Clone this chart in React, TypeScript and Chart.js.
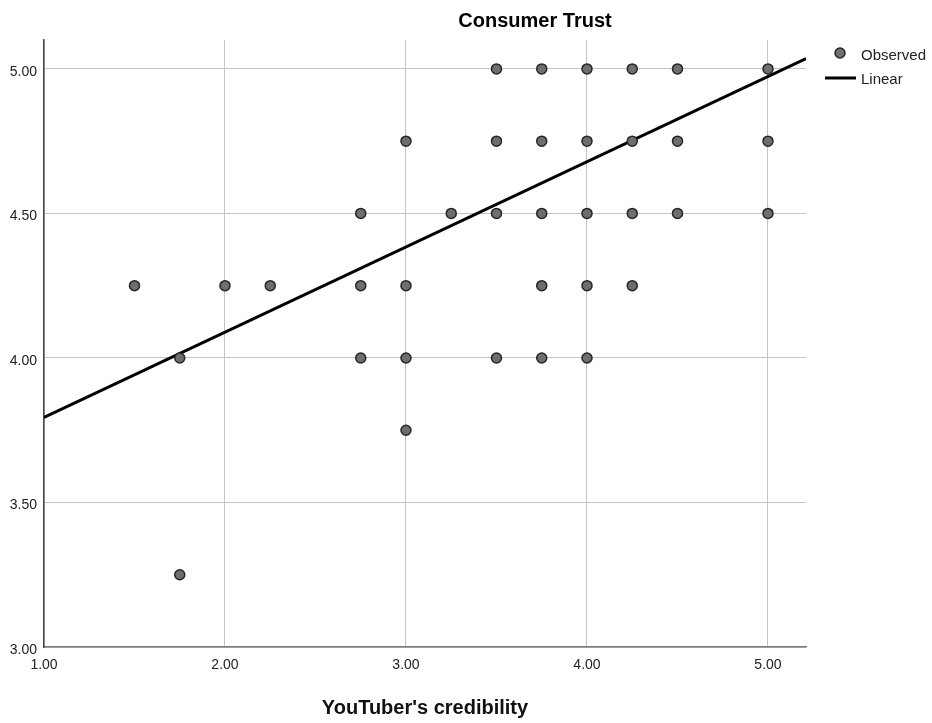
import React, { useEffect, useRef } from "react";
import { Chart, registerables } from "chart.js";

Chart.register(...registerables);

// Observed cases: YouTuber's credibility (x) vs Consumer Trust (y)
const obsX: number[] = [
  3.5, 3.75, 4.0, 4.25, 4.5, 5.0,
  3.0, 3.5, 3.75, 4.0, 4.25, 4.5, 5.0,
  2.75, 3.25, 3.5, 3.75, 4.0, 4.25, 4.5, 5.0,
  1.5, 2.0, 2.25, 2.75, 3.0, 3.75, 4.0, 4.25,
  1.75, 2.75, 3.0, 3.5, 3.75, 4.0,
  3.0,
  1.75,
];
const obsY: number[] = [
  5.0, 5.0, 5.0, 5.0, 5.0, 5.0,
  4.75, 4.75, 4.75, 4.75, 4.75, 4.75, 4.75,
  4.5, 4.5, 4.5, 4.5, 4.5, 4.5, 4.5, 4.5,
  4.25, 4.25, 4.25, 4.25, 4.25, 4.25, 4.25, 4.25,
  4.0, 4.0, 4.0, 4.0, 4.0, 4.0,
  3.75,
  3.25,
];

// Linear fit line, evaluated at the ends of the x range
const fitX: number[] = [1.0, 5.21];
const fitY: number[] = [3.794, 5.036];

const xTicks: number[] = [1, 2, 3, 4, 5];
const yTicks: number[] = [3, 3.5, 4, 4.5, 5];

const chartTitle = "Consumer Trust";
const xTitle = "YouTuber's credibility";
const legendLabels = ["Observed", "Linear"];

const FONT = "'Liberation Sans', Arial, Helvetica, sans-serif";
const POINT_FILL = "#6e6e6e";
const POINT_EDGE = "#262626";

const overlayPlugin = {
  id: "titleAndLegend",
  afterDraw(chart: any) {
    const ctx = chart.ctx as CanvasRenderingContext2D;
    ctx.save();
    // chart title
    ctx.fillStyle = "#000";
    ctx.font = `bold 20px ${FONT}`;
    ctx.textAlign = "center";
    ctx.textBaseline = "middle";
    ctx.fillText(chartTitle, 535, 21);

    // legend
    ctx.beginPath();
    ctx.arc(840, 53, 5, 0, Math.PI * 2);
    ctx.fillStyle = POINT_FILL;
    ctx.fill();
    ctx.lineWidth = 1.5;
    ctx.strokeStyle = POINT_EDGE;
    ctx.stroke();

    ctx.beginPath();
    ctx.moveTo(825, 78);
    ctx.lineTo(856, 78);
    ctx.lineWidth = 3;
    ctx.strokeStyle = "#000";
    ctx.stroke();

    ctx.fillStyle = "#222";
    ctx.font = `15px ${FONT}`;
    ctx.textAlign = "left";
    ctx.textBaseline = "middle";
    ctx.fillText(legendLabels[0], 861, 56);
    ctx.fillText(legendLabels[1], 861, 80);
    ctx.restore();
  },
};

export default function App() {
  const canvasRef = useRef<HTMLCanvasElement | null>(null);

  useEffect(() => {
    if (!canvasRef.current) return;
    const observed = obsX.map((x, i) => ({ x, y: obsY[i] }));
    const fit = fitX.map((x, i) => ({ x, y: fitY[i] }));

    const chart = new Chart(canvasRef.current, {
      type: "scatter",
      data: {
        datasets: [
          {
            label: legendLabels[0],
            data: observed,
            pointRadius: 5,
            pointBorderWidth: 1.5,
            backgroundColor: POINT_FILL,
            borderColor: POINT_EDGE,
            order: 1,
          },
          {
            label: legendLabels[1],
            type: "line",
            data: fit,
            borderColor: "#000",
            borderWidth: 3,
            pointRadius: 0,
            fill: false,
            order: 2,
          } as any,
        ],
      },
      options: {
        animation: false,
        responsive: true,
        maintainAspectRatio: false,
        layout: { padding: { left: 0, right: 126, top: 40, bottom: 0 } },
        plugins: {
          legend: { display: false },
          tooltip: { enabled: false },
          title: { display: false },
        },
        scales: {
          x: {
            type: "linear",
            min: 1,
            max: 5.21,
            afterFit(scale: any) {
              scale.height = 76;
            },
            afterBuildTicks(scale: any) {
              scale.ticks = xTicks.map((v) => ({ value: v }));
            },
            ticks: {
              padding: 10,
              color: "#222",
              font: { family: FONT, size: 14 },
              callback: (v: any) => Number(v).toFixed(2),
            },
            grid: { color: "#c4c4c4", lineWidth: 1, drawTicks: false },
            border: { display: true, color: "#7a7a7a", width: 1.5 },
            title: {
              display: true,
              text: xTitle,
              color: "#111",
              font: { family: FONT, size: 20, weight: "bold" },
              padding: { top: 0, bottom: 3 },
            },
          },
          y: {
            type: "linear",
            min: 3,
            max: 5.1,
            afterFit(scale: any) {
              scale.width = 44;
            },
            afterBuildTicks(scale: any) {
              scale.ticks = yTicks.map((v) => ({ value: v }));
            },
            ticks: {
              padding: 7,
              labelOffset: 3,
              color: "#222",
              font: { family: FONT, size: 14 },
              callback: (v: any) => Number(v).toFixed(2),
            },
            grid: { color: "#c4c4c4", lineWidth: 1, drawTicks: false },
            border: { display: true, color: "#444", width: 1.5 },
          },
        },
      },
      plugins: [overlayPlugin],
    });
    return () => chart.destroy();
  }, []);

  return (
    <div
      style={{
        position: "fixed",
        left: 0,
        top: 0,
        width: 932,
        height: 723,
        background: "#fff",
      }}
    >
      <canvas ref={canvasRef} />
    </div>
  );
}
